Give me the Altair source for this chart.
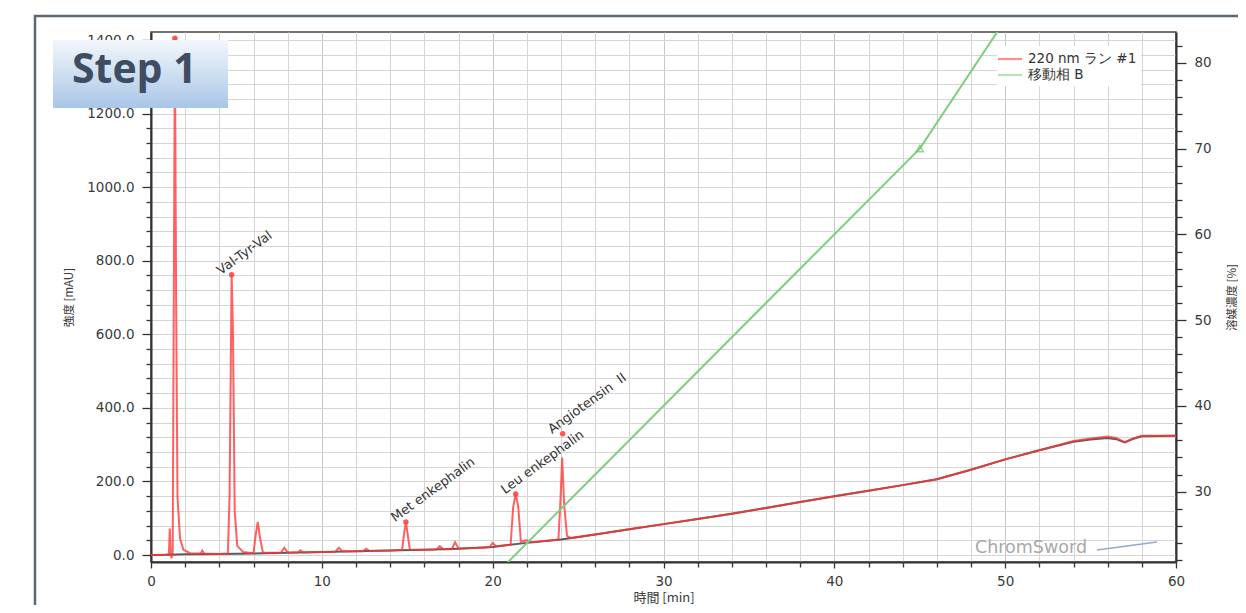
import altair as alt
import pandas as pd

# ---------------- data ----------------
series_names = ["220 nm ラン #1", "移動相 B"]

# chromatogram, 220 nm run #1 (time [min], intensity [mAU])
trace_time = [0, 0.9, 1.05, 1.1, 1.15, 1.2, 1.27, 1.33, 1.4, 1.47, 1.55, 1.7, 1.9, 2.3,
              2.9, 3.0, 3.12, 4.0, 4.5, 4.6, 4.72, 4.8, 4.9, 5.05, 5.4,
              6.0, 6.13, 6.25, 6.37, 6.55, 7.6, 7.8, 8.0, 8.6, 8.75, 8.9,
              10.0, 10.8, 11.0, 11.2, 12.4, 12.6, 12.8, 14.0,
              14.7, 14.82, 14.92, 15.03, 15.15, 16.0, 16.7, 16.9, 17.1, 17.6, 17.8, 18.0,
              19.0, 19.8, 20.0, 20.2, 21.05, 21.2, 21.35, 21.5, 21.65, 22.0, 22.3, 23.0,
              23.85, 23.97, 24.07, 24.18, 24.35, 24.6,
              26, 28, 30, 32, 34, 36, 38, 40, 42, 44, 46, 48, 50, 52, 54, 55, 56,
              56.5, 57, 57.5, 58, 60]
trace_mau = [0, 1, 3, 72, 8, -9, 10, 650, 1405, 700, 160, 45, 14, 5,
             4, 12, 4, 3, 4, 160, 762, 600, 120, 25, 8,
             5, 55, 90, 50, 7, 6, 20, 7, 7, 13, 7,
             8, 9, 20, 10, 10, 17, 11, 12,
             14, 60, 90, 55, 15, 14, 15, 24, 16, 16, 35, 18,
             19, 21, 33, 24, 28, 130, 166, 130, 36, 40, 35, 38,
             42, 150, 265, 140, 52, 46,
             56, 70, 84, 98, 112, 128, 144, 160, 175, 190, 206, 232, 260, 285, 310, 317, 322,
             318, 307, 317, 324, 324]

# blank baseline under the chromatogram
base_time = [0, 1, 2, 4, 6, 8, 10, 12, 14, 16, 18, 20, 22, 24, 26, 28, 30, 32, 34, 36, 38,
             40, 42, 44, 46, 48, 50, 52, 54, 55, 56, 56.5, 57, 57.5, 58, 60]
base_mau = [0, 1, 2, 3, 4, 6, 8, 10, 12, 14, 17, 22, 33, 42, 56, 70, 84, 98, 112, 128, 144,
            160, 175, 190, 206, 232, 260, 285, 308, 314, 318, 315, 306, 316, 323, 324]

# mobile phase B gradient (time [min], %)
grad_time = [20, 45, 55]
grad_pct = [20, 70, 100]
grad_mark_time = [45]
grad_mark_pct = [70]

# identified peaks
peak_names = ["", "Val-Tyr-Val", "Met enkephalin", "Leu enkephalin", "Angiotensin\u00a0\u00a0II"]
peak_time = [1.4, 4.72, 14.92, 21.35, 24.1]
peak_mau = [1405, 762, 90, 166, 330]

# axis ticks
x_ticks = list(range(0, 61, 2))
yl_ticks = list(range(0, 1401, 40))
yr_ticks = list(range(22, 84, 2))

# ---------------- frames ----------------
red_df = pd.DataFrame({"t": trace_time, "v": trace_mau, "s": series_names[0]})
base_df = pd.DataFrame({"t": base_time, "v": base_mau})
grad_df = pd.DataFrame({"t": grad_time, "p": grad_pct, "s": series_names[1]})
gmark_df = pd.DataFrame({"t": grad_mark_time, "p": grad_mark_pct})
peaks_df = pd.DataFrame({"t": peak_time, "v": peak_mau, "name": peak_names})
one = pd.DataFrame({"a": [0]})

FONT = "DejaVu Sans"
CJK = "Noto Sans CJK JP"
INK = "#3a3a3a"
GRID = "#d5d5d5"

x_scale = alt.Scale(domain=[0, 60], nice=False, zero=False)
yl_scale = alt.Scale(domain=[-19, 1422], nice=False, zero=False)
yr_scale = alt.Scale(domain=[21.8, 83.6], nice=False, zero=False)

x_axis = alt.Axis(
    values=x_ticks, labelExpr="datum.value % 10 === 0 ? datum.value : ''",
    labelOverlap=False, labelBound=False, labelFlush=False,
    tickSize={"condition": {"test": "datum.value % 10 === 0", "value": 6}, "value": 5},
    tickColor="#333", tickWidth=1.3, domainColor="#333", domainWidth=2,
    grid=True, gridColor={"condition": {"test": "datum.value % 10 === 0", "value": "#c8c8c8"}, "value": GRID},
    labelFont=FONT, labelFontSize=13.5, labelColor=INK, labelPadding=6,
    title="時間 [min]", titleFont=CJK, titleFontSize=13, titleFontWeight="normal",
    titleColor=INK, titlePadding=4,
)
yl_axis = alt.Axis(
    values=yl_ticks, labelExpr="datum.value % 200 === 0 ? format(datum.value, '.1f') : ''",
    labelOverlap=False, labelBound=False, labelFlush=False,
    tickSize={"condition": {"test": "datum.value % 200 === 0", "value": 9}, "value": 5},
    tickColor="#333", tickWidth=1.3, domainColor="#333", domainWidth=2,
    grid=True, gridColor=GRID,
    labelFont=FONT, labelFontSize=13.5, labelColor=INK, labelPadding=8,
    title="強度 [mAU]", titleFont=CJK, titleFontSize=11.5, titleFontWeight="normal",
    titleColor=INK, titlePadding=12,
)
yr_axis = alt.Axis(
    orient="right", values=yr_ticks, labelExpr="datum.value % 10 === 0 ? datum.value : ''",
    labelOverlap=False, labelBound=False, labelFlush=False,
    tickSize={"condition": {"test": "datum.value % 10 === 0", "value": 10}, "value": 6},
    tickColor="#333", tickWidth=1.3, domainColor="#333", domainWidth=2,
    grid=False,
    labelFont=FONT, labelFontSize=13.5, labelColor=INK, labelPadding=8,
    title="溶媒濃度 [%]", titleFont=CJK, titleFontSize=11.5, titleFontWeight="normal",
    titleColor=INK, titlePadding=15, titleAngle=270, titleBaseline="top",
)

color_enc = alt.Color(
    "s:N",
    scale=alt.Scale(domain=series_names, range=["#ff3434", "#7ccf7c"]),
    legend=alt.Legend(
        title=None, orient="none", legendX=846, legendY=14,
        symbolType="M-1.6,0L1.6,0", symbolSize=225, symbolStrokeWidth=2.2, symbolOpacity=0.55,
        labelFont=FONT, labelFontSize=13.5, labelColor="#333", labelOffset=9,
        fillColor="white", padding=4, rowPadding=0,
    ),
)

X = alt.X("t:Q", scale=x_scale, axis=x_axis)
YL = alt.Y("v:Q", scale=yl_scale, axis=yl_axis)
YR = alt.Y("p:Q", scale=yr_scale, axis=yr_axis)

# ---------------- chromatogram (left axis) ----------------
base_line = alt.Chart(base_df).mark_line(color="#5a5a5a", strokeWidth=2).encode(x=X, y=YL)
red_line = alt.Chart(red_df).mark_line(strokeWidth=2, opacity=0.78).encode(
    x=X, y=YL, color=color_enc, order=alt.Order("t:Q"))
peak_marks = alt.Chart(peaks_df).mark_point(
    shape="circle", filled=True, size=30, color="#ff4444", opacity=0.9).encode(x=X, y=YL)
peak_labels = alt.Chart(peaks_df).mark_text(
    align="left", baseline="bottom", angle=324, dx=-9, dy=-3,
    font=FONT, fontSize=13, color="#333").encode(x=X, y=YL, text="name:N")
left = alt.layer(base_line, red_line, peak_marks, peak_labels)

# ---------------- gradient (right axis) ----------------
grad_line = alt.Chart(grad_df).mark_line(strokeWidth=2, clip=True).encode(
    x=X, y=YR, color=color_enc)
grad_mark = alt.Chart(gmark_df).mark_point(
    shape="triangle-up", filled=False, size=55, color="#6cc46c", strokeWidth=1.5).encode(x=X, y=YR)
right = alt.layer(grad_line, grad_mark)

# ---------------- decorations ----------------
panel = alt.Chart(one).mark_rect(fill="white", fillOpacity=0, stroke="#5d6773", strokeWidth=2.5).encode(
    x=alt.value(-116), x2=alt.value(1200), y=alt.value(-16), y2=alt.value(700))
step_box = alt.Chart(one).mark_rect(
    fill=alt.LinearGradient(gradient="linear", x1=0, x2=0, y1=0, y2=1,
                            stops=[alt.GradientStop(offset=0, color="#f3f7fc"),
                                   alt.GradientStop(offset=1, color="#a9c6e7")])).encode(
    x=alt.value(-98), x2=alt.value(77), y=alt.value(8), y2=alt.value(76))
step_text = alt.Chart(one).mark_text(
    text="Step 1", align="left", baseline="alphabetic", font="Open Sans", fontWeight="bold",
    fontSize=41, color="#3e4d62").encode(x=alt.value(-79), y=alt.value(51))
logo_text = alt.Chart(one).mark_text(
    text="ChromSword", align="left", baseline="alphabetic", font="DejaVu Sans", fontSize=17.5,
    color="#a8a8a8").encode(x=alt.value(824), y=alt.value(521))
logo_swoosh = alt.Chart(one).mark_rule(color="#93abc9", strokeWidth=1.5).encode(
    x=alt.value(946), x2=alt.value(1006), y=alt.value(518), y2=alt.value(510))

chart = alt.layer(panel, left, right, step_box, step_text, logo_text, logo_swoosh).resolve_scale(
    y="independent"
).properties(
    width=1025, height=530,
    autosize=alt.AutoSizeParams(type="none"),
    padding={"left": 143, "top": 24, "right": 62, "bottom": 43},
).configure_view(stroke="#444", strokeWidth=1.5)

chart.save("out.html", embed_options={"renderer": "svg", "actions": False})
